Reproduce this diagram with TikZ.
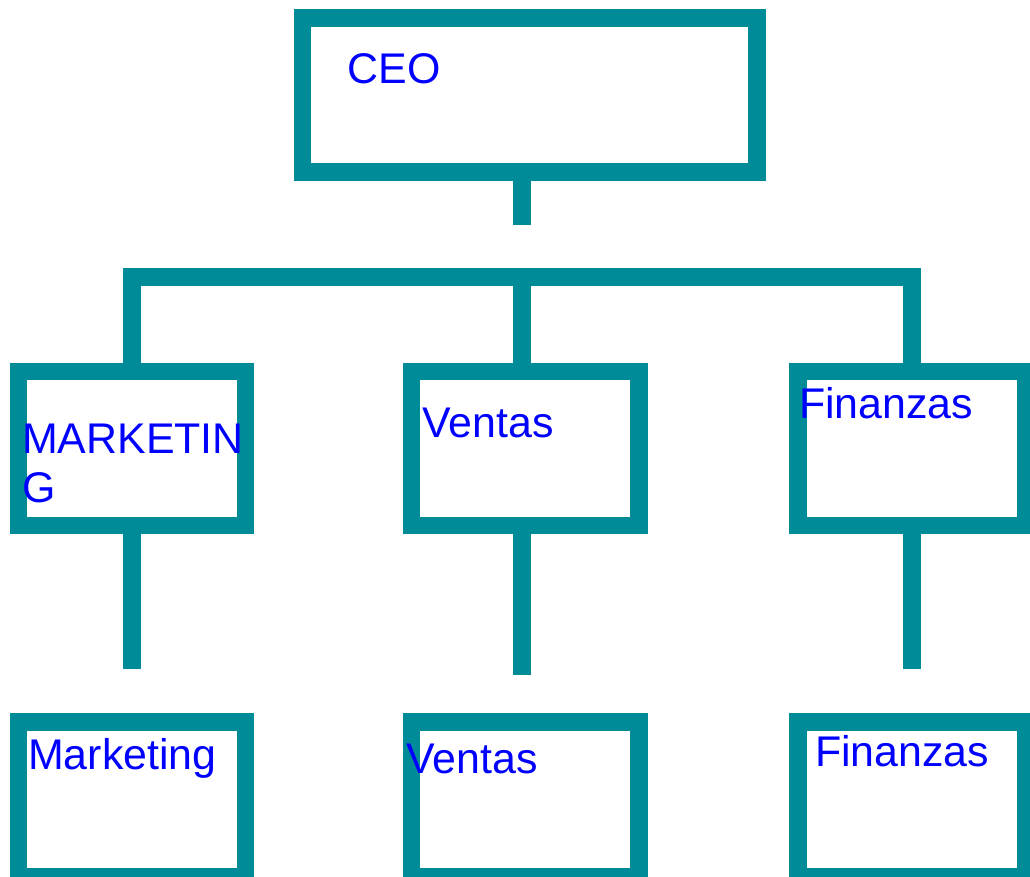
\documentclass[tikz,border=0pt]{standalone}
\usepackage{fontspec}
\setmainfont{Liberation Sans}
\definecolor{teal1}{RGB}{0,139,153}
\definecolor{txtblue}{RGB}{0,0,255}
\begin{document}
\begin{tikzpicture}[x=1pt,y=-1pt,
  box/.style={draw=teal1, line width=17.4pt, fill=white, minimum height=154.3pt, inner sep=0pt},
  link/.style={draw=teal1, line width=17.4pt, line cap=butt, line join=miter},
  lbl/.style={anchor=base west, inner sep=0pt, text=txtblue, font=\fontsize{42.9}{49.3}\selectfont}]
\useasboundingbox (0,0) rectangle (1030,877);
\clip (0,0) rectangle (1030,877);
\fill[white] (0,0) rectangle (1030,877);
% boxes
\node[box, minimum width=454.8pt] (ceo) at (529.6,95) {};
\node[box, minimum width=227.5pt] (mk) at (131.95,448.35) {};
\node[box, minimum width=227.5pt] (ve) at (525.2,448.35) {};
\node[box, minimum width=227.5pt] (fi) at (911.8,448.35) {};
\node[box, minimum width=227.5pt] (mk2) at (131.95,799.2) {};
\node[box, minimum width=227.5pt] (ve2) at (525.2,799.2) {};
\node[box, minimum width=227.5pt] (fi2) at (911.8,799.2) {};
% free ends
\coordinate (ceoend) at (522,225.3);
\coordinate (bar) at (522,277);
\coordinate (mkend) at (132,669.3);
\coordinate (veend) at (522,675);
\coordinate (fiend) at (912,669.3);
% connectors
\draw[link] (ceo.south -| ceoend) -- (ceoend);
\draw[link] (mk.north -| mkend) -- (mkend |- bar) -- (fiend |- bar) -- (fi.north -| fiend);
\draw[link] (bar) -- (ve.north -| bar);
\draw[link] (mk.south -| mkend) -- (mkend);
\draw[link] (ve.south -| veend) -- (veend);
\draw[link] (fi.south -| fiend) -- (fiend);
% labels
\node[lbl] (tceo) at (347.5,84) {CEO};
\node[lbl] (tmk1) at (22,453.3) {MARKETIN};
\node[lbl] (tmk2) at (22,502.7) {G};
\node[lbl] (tve) at (422.5,437.3) {Ventas};
\node[lbl] (tfi) at (799,418.3) {Finanzas};
\node[lbl] (tmk2b) at (28,769.3) {Marketing};
\node[lbl] (tve2) at (406.5,773.3) {Ventas};
\node[lbl] (tfi2) at (815,766.7) {Finanzas};
\end{tikzpicture}
\end{document}
